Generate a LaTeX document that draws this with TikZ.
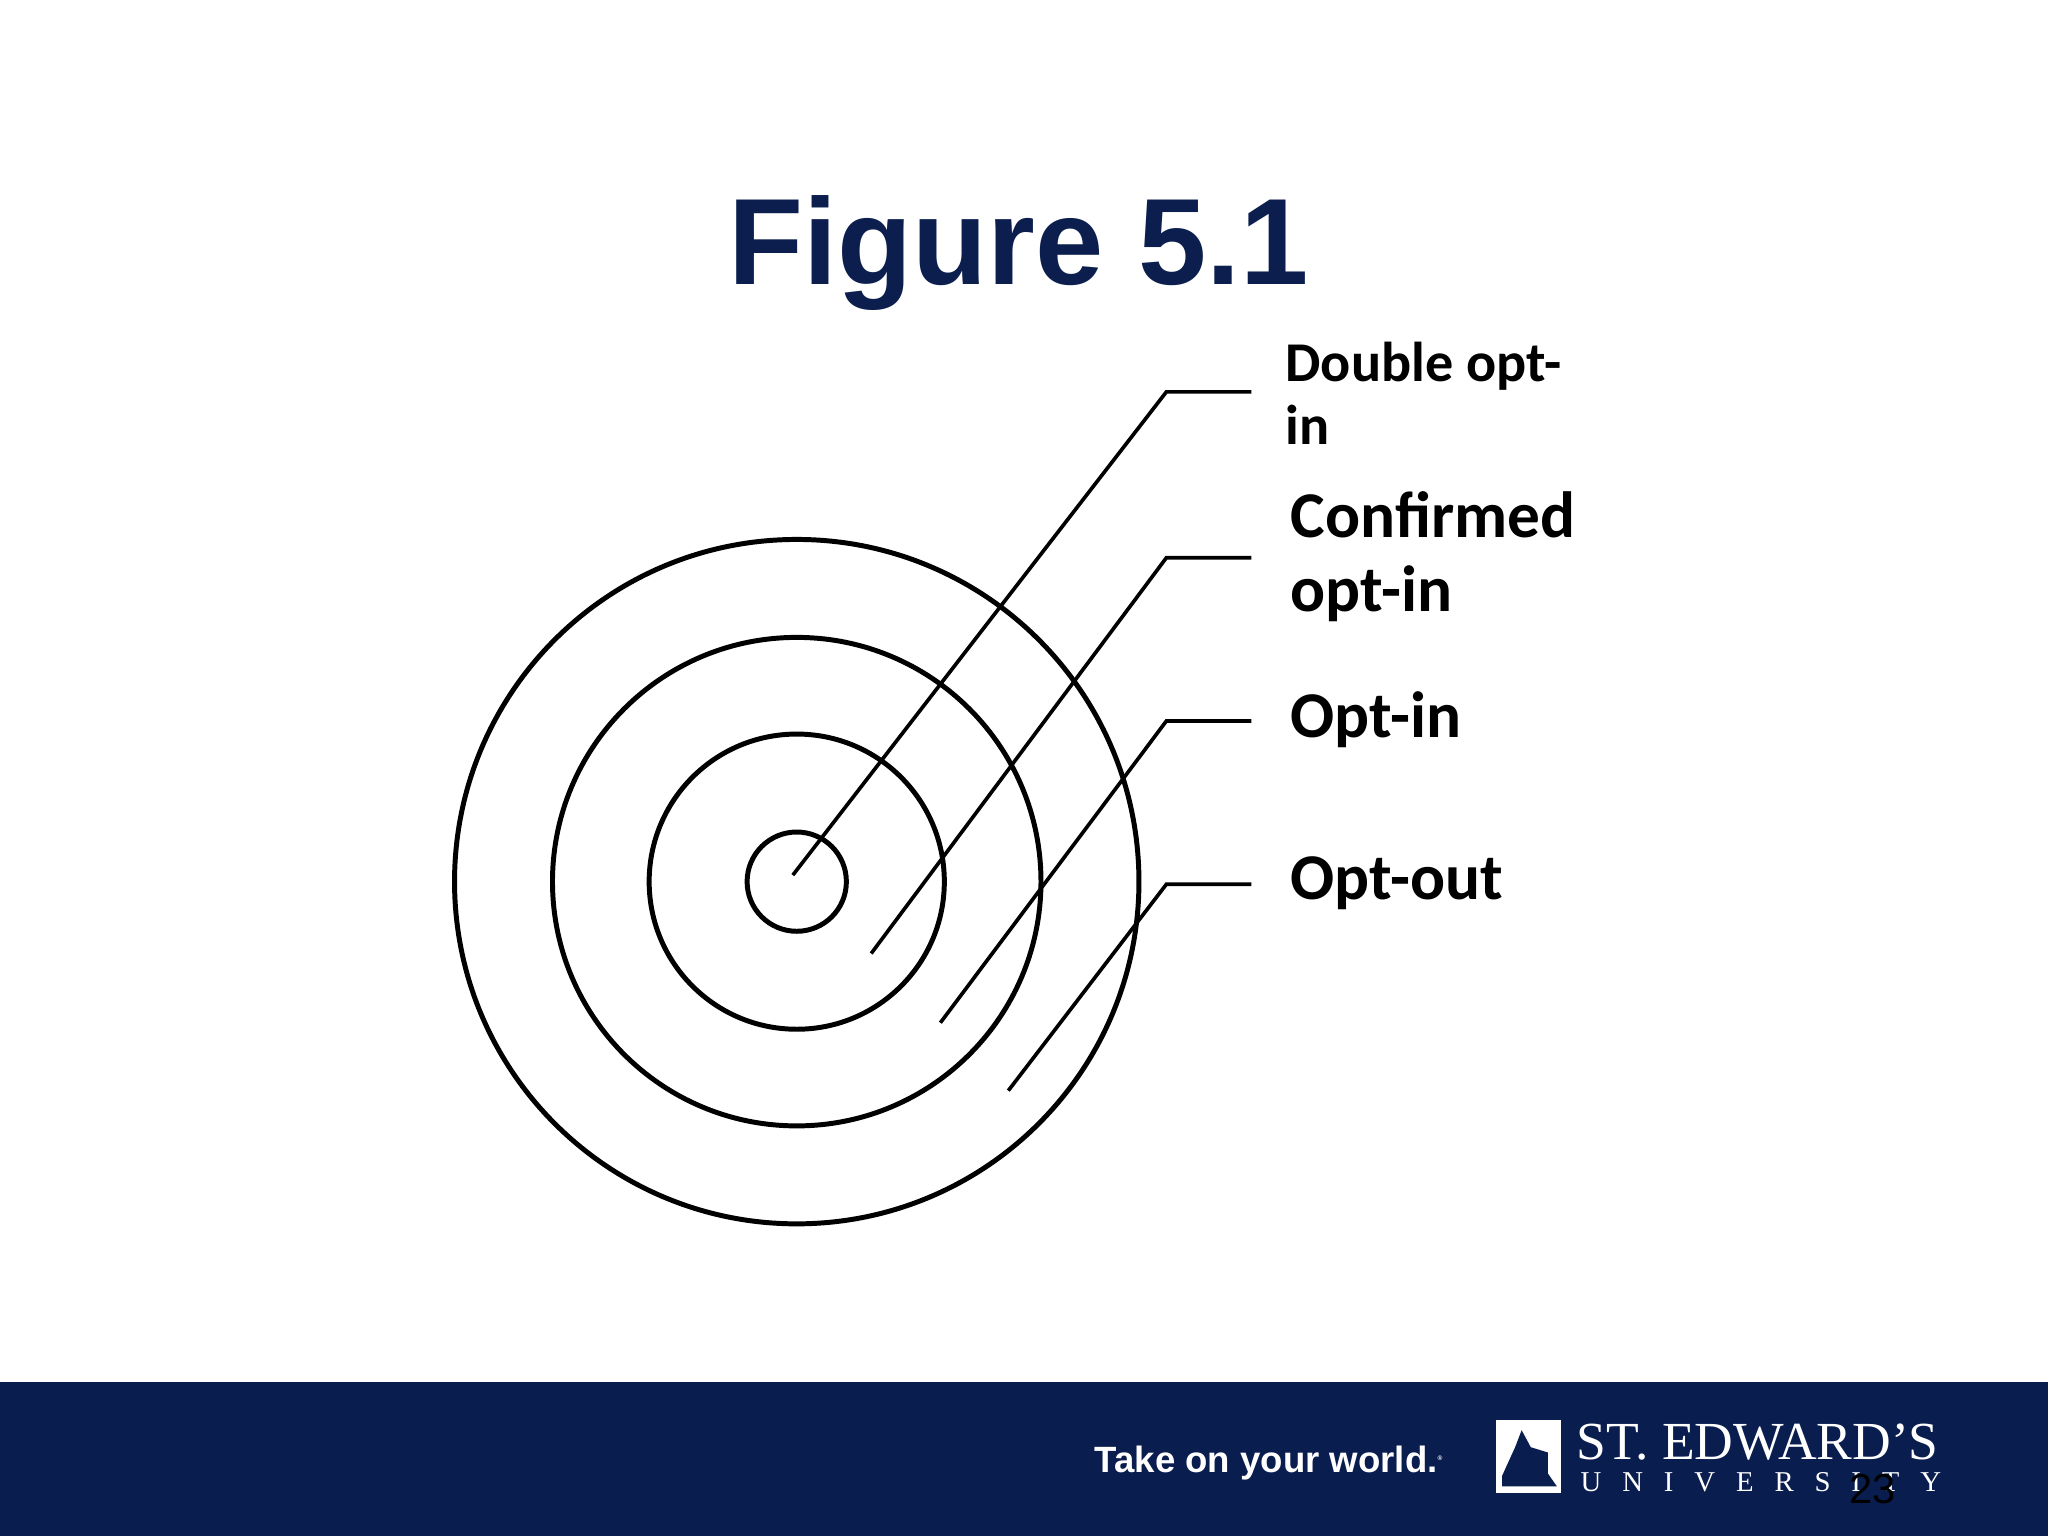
\documentclass[tikz,border=0pt]{standalone}
\usepackage{fontspec}
\setmainfont{Carlito}
\newfontfamily\titlefont{Liberation Sans}
\newfontfamily\logofont{Liberation Serif}
\definecolor{navy}{HTML}{0B1E4E}
\definecolor{band}{HTML}{0A1D4F}
\begin{document}
\begin{tikzpicture}[x=1pt,y=-1pt,
  ring/.style={line width=3.8pt},
  lead/.style={line width=2.8pt},
  lbl/.style={anchor=west,font=\bfseries\fontsize{50}{57}\selectfont,align=left,inner sep=0pt}]
\useasboundingbox (0,0) rectangle (1568,1176);
\fill[white] (0,0) rectangle (1568,1176);
\fill[band] (0,1058) rectangle (1568,1176);
\node[font=\titlefont\bfseries\fontsize{94}{110}\selectfont,text=navy] (title) at (780,194) {Figure 5.1};
\coordinate (c) at (610,675);
\draw[ring] (c) circle (38);
\draw[ring] (c) circle (113);
\draw[ring] (c) circle (187);
\draw[ring] (c) circle (262);
\coordinate (a1) at (607,670); \coordinate (b1) at (893,300); \coordinate (e1) at (958,300);
\coordinate (a2) at (667,730); \coordinate (b2) at (893,427); \coordinate (e2) at (958,427);
\coordinate (a3) at (720,783); \coordinate (b3) at (893,552); \coordinate (e3) at (958,552);
\coordinate (a4) at (772,835); \coordinate (b4) at (893,677); \coordinate (e4) at (958,677);
\foreach \i in {1,2,3,4} \draw[lead] (a\i) -- (b\i) -- (e\i);
\node[lbl,font=\bfseries\fontsize{43}{48}\selectfont] (l1) at (984,301) {Double opt-\\in};
\node[lbl] (l2) at (988,426) {Confirmed\\opt-in};
\node[lbl] (l3) at (988,551) {Opt-in};
\node[lbl] (l4) at (988,676) {Opt-out};
\node[text=white,font=\titlefont\bfseries\fontsize{28}{30}\selectfont,anchor=west,inner sep=0pt] (tag) at (838,1120) {Take on your world.\textsuperscript{\tiny\textregistered}};
\fill[white] (1145,1087) rectangle (1195,1143);
\fill[band] (1150,1130) -- (1160,1108) -- (1165,1095) -- (1172,1108) -- (1185,1112) -- (1185,1128) -- (1192,1138) -- (1150,1138) -- cycle;
\node[text=white,font=\logofont\fontsize{41}{45}\selectfont,anchor=west,inner sep=0pt] (st) at (1207,1104) {ST. EDWARD’S};
\node[text=white,font=\logofont\fontsize{22}{26}\selectfont,anchor=west,inner sep=0pt] (uni) at (1210,1135) {U\hspace{16pt}N\hspace{16pt}I\hspace{16pt}V\hspace{16pt}E\hspace{16pt}R\hspace{16pt}S\hspace{16pt}I\hspace{16pt}T\hspace{16pt}Y};
\node[text=black,font=\titlefont\fontsize{32}{36}\selectfont] (pg) at (1434,1140) {23};
\end{tikzpicture}
\end{document}
